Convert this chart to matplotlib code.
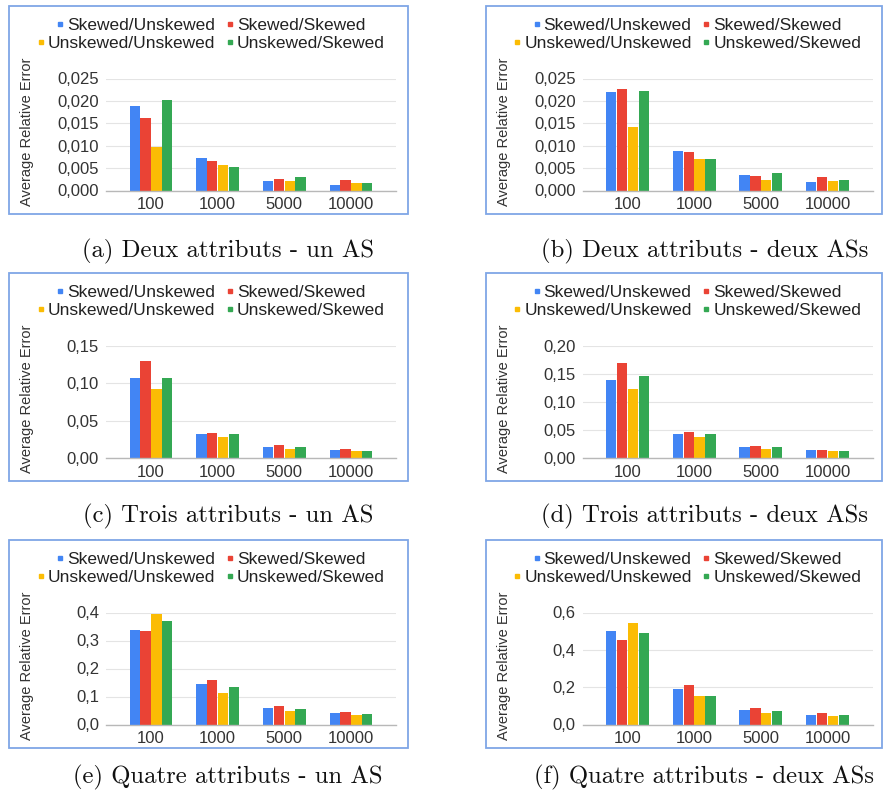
import matplotlib
matplotlib.use('Agg')
import matplotlib.pyplot as plt
from matplotlib.patches import Rectangle
from matplotlib.lines import Line2D
import numpy as np

# tailles d'echantillon et series
tailles = ['100', '1000', '5000', '10000']
series = ['Skewed/Unskewed', 'Skewed/Skewed', 'Unskewed/Unskewed', 'Unskewed/Skewed']
couleurs = ['#4285F4', '#EA4335', '#FBBC04', '#34A853']

# erreur relative moyenne, une ligne par serie (meme ordre que series)
deux_un_as = [[0.0188, 0.0073, 0.0022, 0.0013],
              [0.0161, 0.0065, 0.0026, 0.0023],
              [0.0096, 0.0058, 0.0021, 0.0016],
              [0.0203, 0.0053, 0.0030, 0.0016]]
deux_deux_as = [[0.0220, 0.0088, 0.0035, 0.0019],
                [0.0226, 0.0085, 0.0033, 0.0030],
                [0.0142, 0.0070, 0.0024, 0.0022],
                [0.0223, 0.0070, 0.0038, 0.0024]]
trois_un_as = [[0.1065, 0.0328, 0.0146, 0.0102],
               [0.1296, 0.0337, 0.0169, 0.0120],
               [0.0918, 0.0280, 0.0120, 0.0093],
               [0.1074, 0.0315, 0.0142, 0.0098]]
trois_deux_as = [[0.1396, 0.0420, 0.0190, 0.0136],
                 [0.1700, 0.0460, 0.0210, 0.0148],
                 [0.1237, 0.0373, 0.0166, 0.0118],
                 [0.1460, 0.0420, 0.0190, 0.0130]]
quatre_un_as = [[0.336, 0.146, 0.058, 0.040],
                [0.335, 0.159, 0.066, 0.045],
                [0.393, 0.113, 0.047, 0.034],
                [0.369, 0.134, 0.056, 0.038]]
quatre_deux_as = [[0.499, 0.192, 0.076, 0.053],
                  [0.453, 0.213, 0.089, 0.060],
                  [0.545, 0.153, 0.064, 0.046],
                  [0.488, 0.153, 0.075, 0.051]]

legendes = ['(a) Deux attributs - un AS', '(b) Deux attributs - deux ASs',
            '(c) Trois attributs - un AS', '(d) Trois attributs - deux ASs',
            '(e) Quatre attributs - un AS', '(f) Quatre attributs - deux ASs']

# graduations y : (max, pas, decimales)
echelles = [(0.025, 0.005, 3), (0.025, 0.005, 3),
            (0.15, 0.05, 2), (0.20, 0.05, 2),
            (0.4, 0.1, 1), (0.6, 0.2, 1)]

donnees = [deux_un_as, deux_deux_as, trois_un_as, trois_deux_as, quatre_un_as, quatre_deux_as]

W, H = 883, 799
fig = plt.figure(figsize=(W / 100, H / 100), dpi=100)
fig.patch.set_facecolor('white')

police = 'Liberation Sans'
gris = '#333333'

cadres_x = [9, 485.5]
cadres_larg = [399, 396]
cadres_y = [5.5, 273, 539.5]
legende_y = [251, 516.5, 777.5]
larg, haut = 399, 208


def fx(px):
    return px / W


def fy(py):
    return 1 - py / H


for k in range(6):
    ligne, col = divmod(k, 2)
    x0 = cadres_x[col]
    y0 = cadres_y[ligne]

    # cadre bleu autour du graphique
    fig.patches.append(Rectangle((fx(x0), fy(y0 + haut)), cadres_larg[col] / W, haut / H,
                                 transform=fig.transFigure, fill=False,
                                 edgecolor='#7fa6e6', linewidth=1.3))

    ax = fig.add_axes([fx(x0 + 97), fy(y0 + 185), 290 / W, 112 / H])
    ymax, pas, dec = echelles[k]
    x = np.arange(len(tailles))
    larg_barre = 0.1625
    for i, vals in enumerate(donnees[k]):
        ax.bar(x + (i - 1.5) * larg_barre, vals, width=larg_barre * 0.96,
               color=couleurs[i], zorder=3)

    ax.set_xlim(-0.675, 3.675)
    ax.set_ylim(0, ymax)
    yt = np.arange(0, ymax + pas / 2, pas)
    ax.set_yticks(yt)
    ax.set_yticklabels([f'{v:.{dec}f}'.replace('.', ',') for v in yt],
                       fontsize=12, fontfamily=police, color=gris)
    ax.set_xticks(x)
    ax.set_xticklabels(tailles, fontsize=12, fontfamily=police, color=gris)
    ax.tick_params(axis='both', length=0)
    ax.tick_params(axis='y', pad=5)
    ax.tick_params(axis='x', pad=5)
    ax.grid(axis='y', color='#e4e4e4', linewidth=0.8, zorder=0)
    for s in ['top', 'right', 'left']:
        ax.spines[s].set_visible(False)
    ax.spines['bottom'].set_color('#b8b8b8')
    ax.spines['bottom'].set_linewidth(1.0)
    ax.spines['bottom'].set_zorder(4)

    fig.text(fx(x0 + 18), fy(y0 + 126), 'Average Relative Error', rotation=90,
             ha='center', va='center', fontsize=10.5, fontfamily=police, color=gris)

    # legende sur deux lignes centrees
    poignees = [Line2D([], [], marker='s', linestyle='none', markersize=3.5,
                       color=c) for c in couleurs]
    cx = fx(x0 + larg / 2 + 2)
    for r, yy in enumerate([19.5, 37.5]):
        leg = fig.legend(poignees[2 * r:2 * r + 2], series[2 * r:2 * r + 2],
                         loc='center', bbox_to_anchor=(cx, fy(y0 + yy)), ncol=2,
                         frameon=False, handlelength=0.5, handletextpad=0.15,
                         columnspacing=0.6, borderpad=0, borderaxespad=0,
                         prop={'family': police, 'size': 12.5})
        for t in leg.get_texts():
            t.set_color('#222222')

    fig.text(fx(x0 + larg / 2 + 19.5), fy(legende_y[ligne]), legendes[k],
             ha='center', va='center', fontsize=17.8, fontfamily='cmr10', color='#111111')

fig.savefig('out.png', dpi=100)
